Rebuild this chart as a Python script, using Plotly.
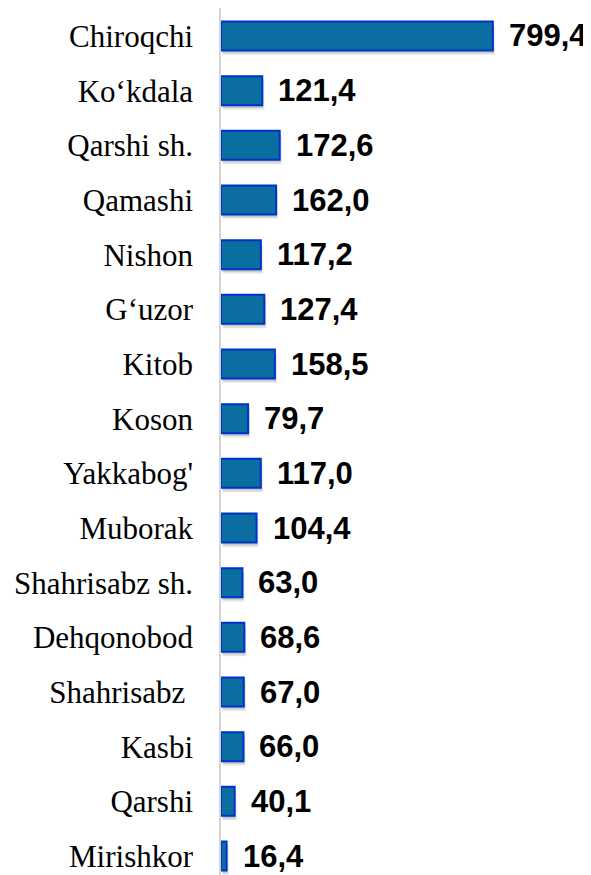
import plotly.graph_objects as go

categories = ["Chiroqchi", "Ko\u2018kdala", "Qarshi sh.", "Qamashi", "Nishon", "G\u2018uzor",
              "Kitob", "Koson", "Yakkabog'", "Muborak", "Shahrisabz sh.", "Dehqonobod",
              "Shahrisabz\u00a0", "Kasbi", "Qarshi", "Mirishkor"]
values = [799.4, 121.4, 172.6, 162.0, 117.2, 127.4, 158.5, 79.7, 117.0, 104.4,
          63.0, 68.6, 67.0, 66.0, 40.1, 16.4]

n = len(categories)
pos = [n - 1 - i for i in range(n)]
labels = [f"{v:.1f}".replace(".", ",") for v in values]

BAR_W = 0.53

fig = go.Figure()
# soft drop shadow
fig.add_trace(go.Bar(
    y=pos, x=values, orientation="h", base=6, width=BAR_W, offset=-BAR_W / 2 - 0.08,
    marker=dict(color="rgba(0,0,0,0.10)", line=dict(width=0)),
    hoverinfo="skip", showlegend=False))
fig.add_trace(go.Bar(
    y=pos, x=values, orientation="h", base=3, width=BAR_W, offset=-BAR_W / 2 - 0.05,
    marker=dict(color="rgba(0,0,0,0.12)", line=dict(width=0)),
    hoverinfo="skip", showlegend=False))
# main bars
fig.add_trace(go.Bar(
    y=pos, x=values, orientation="h", width=BAR_W,
    marker=dict(color="#0a6ea0", line=dict(color="#0033cc", width=2)),
    showlegend=False))

for p, v, t in zip(pos, values, labels):
    fig.add_annotation(x=v, y=p, text=t, showarrow=False, xanchor="left", yanchor="middle",
                       xshift=14,
                       font=dict(family="Liberation Sans, Arial, sans-serif", size=31,
                                 color="#000000", weight="bold"))

# page body has an 8px default margin, so the figure is sized to fill the rest
fig.update_layout(
    width=583, height=867,
    margin=dict(l=213, r=0, t=0, b=0, autoexpand=False),
    paper_bgcolor="white", plot_bgcolor="white",
    barmode="overlay",
    xaxis=dict(range=[0, 1088], visible=False, showgrid=False, zeroline=False,
               automargin=False),
    yaxis=dict(range=[-0.347, 15.512], tickmode="array", tickvals=pos, ticktext=categories,
               showgrid=False, zeroline=False, showline=True, linecolor="#d4d4d4",
               linewidth=1.5, ticks="", ticklabelstandoff=20, automargin=False,
               tickfont=dict(family="Liberation Serif, Times New Roman, serif", size=31,
                             color="#000000")),
)

fig.write_html("out.html")
